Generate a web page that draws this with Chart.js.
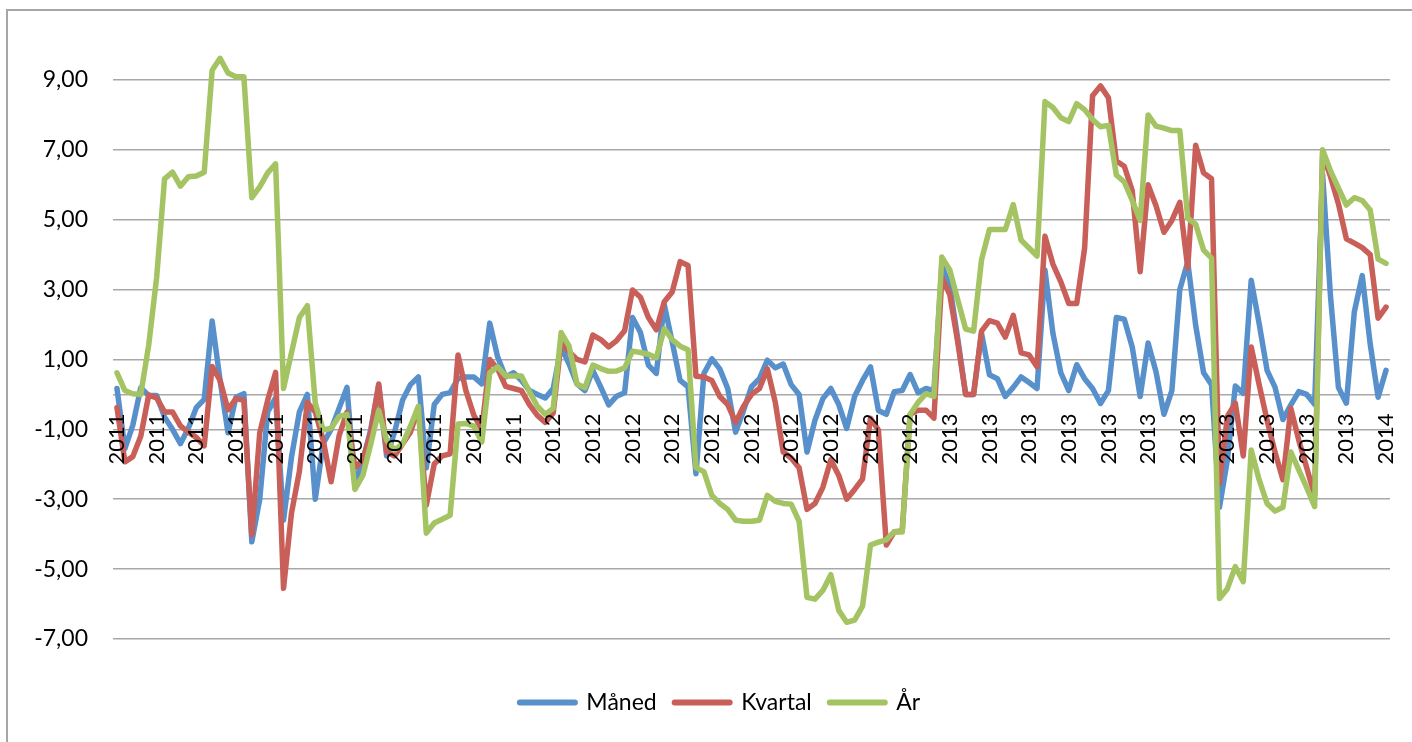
<!DOCTYPE html>
<html><head><meta charset="utf-8">
<script src="https://cdn.jsdelivr.net/npm/chart.js@4.4.1/dist/chart.umd.min.js"></script>
<style>
html,body{margin:0;padding:0;background:#fff;overflow:hidden;}
#wrap{position:relative;width:1412px;height:742px;}
#frame{position:absolute;left:6px;top:9px;width:1420px;height:760px;border-left:2px solid #a6a6a6;border-top:2px solid #a6a6a6;pointer-events:none;}
</style></head><body>
<div id="wrap"><canvas id="c" width="1412" height="742"></canvas><div id="frame"></div></div>
<script>
const yearNames = ['2011', '2012', '2013', '2014'];
const pointsPerYear = [52, 52, 52, 5];
const categories = yearNames.flatMap((y, k) => Array(pointsPerYear[k]).fill(y));

const yTicks = [-7, -5, -3, -1, 0, 1, 3, 5, 7, 9];

const maaned = [
  0.17,-1.55,-0.88,0.19,-0.03,-0.03,-0.65,-1.0,-1.41,-0.97,
  -0.38,-0.14,2.1,0.4,-1.1,-0.08,0.02,-4.22,-3.0,-0.5,
  -0.1,-3.6,-1.8,-0.5,0.0,-3.0,-1.4,-1.0,-0.4,0.2,
  -2.6,-1.9,-1.0,0.25,-1.76,-1.08,-0.17,0.28,0.5,-2.1,
  -0.29,0.0,0.05,0.45,0.5,0.5,0.3,2.04,1.07,0.5,
  0.62,0.4,0.11,0.0,-0.1,0.17,1.36,0.87,0.3,0.11,
  0.69,0.21,-0.3,-0.05,0.05,2.2,1.77,0.84,0.6,2.57,
  1.5,0.4,0.22,-2.27,0.6,1.02,0.73,0.17,-1.08,-0.46,
  0.22,0.45,0.98,0.76,0.87,0.28,0.0,-1.65,-0.74,-0.12,
  0.17,-0.29,-0.97,-0.06,0.4,0.79,-0.46,-0.57,0.08,0.11,
  0.57,0.05,0.17,0.11,3.68,3.1,1.6,0.0,0.0,1.75,
  0.56,0.45,-0.06,0.2,0.5,0.34,0.17,3.56,1.75,0.62,
  0.11,0.85,0.45,0.17,-0.26,0.11,2.2,2.15,1.36,-0.06,
  1.47,0.65,-0.57,0.11,3.0,3.79,1.98,0.62,0.28,-3.23,
  -1.87,0.24,0.03,3.27,2.03,0.69,0.21,-0.72,-0.3,0.08,
  0.0,-0.28,6.3,2.8,0.2,-0.25,2.36,3.4,1.45,-0.08,
  0.69
];

const kvartal = [
  -0.38,-1.93,-1.78,-1.2,-0.02,-0.1,-0.5,-0.5,-0.9,-1.08,
  -1.23,-1.47,0.8,0.4,-0.44,-0.12,-0.17,-4.02,-1.1,-0.17,
  0.63,-5.55,-3.4,-2.2,-0.23,-0.5,-1.31,-2.5,-1.19,-0.51,
  -2.1,-1.87,-1.08,0.3,-1.65,-1.76,-1.42,-1.08,-0.4,-3.17,
  -1.99,-1.76,-1.7,1.13,0.1,-0.6,-1.0,1.0,0.73,0.23,
  0.17,0.11,-0.29,-0.6,-0.8,-0.53,1.5,1.22,1.0,0.93,
  1.7,1.57,1.36,1.54,1.82,2.99,2.78,2.2,1.85,2.65,
  2.93,3.8,3.69,0.52,0.5,0.4,-0.06,-0.29,-0.8,-0.34,
  0.0,0.17,0.73,-0.23,-1.65,-1.82,-2.1,-3.29,-3.12,-2.66,
  -1.87,-2.32,-3.0,-2.72,-2.42,-0.68,-1.02,-4.31,-3.93,-3.91,
  -0.57,-0.45,-0.45,-0.68,3.34,2.86,1.5,0.0,0.0,1.81,
  2.11,2.04,1.64,2.26,1.19,1.13,0.79,4.53,3.73,3.22,
  2.6,2.6,4.19,8.55,8.83,8.49,6.68,6.53,5.83,3.51,
  6.0,5.4,4.64,4.98,5.5,3.62,7.13,6.34,6.17,-2.55,
  -0.63,-0.25,-1.76,1.36,0.28,-0.74,-1.65,-2.44,-0.4,-1.31,
  -2.1,-2.89,6.9,6.23,5.45,4.45,4.33,4.2,4.0,2.18,
  2.5
];

const aar = [
  0.62,0.11,0.02,0.0,1.41,3.34,6.17,6.36,5.96,6.23,
  6.25,6.36,9.28,9.62,9.2,9.09,9.09,5.63,5.94,6.34,
  6.6,0.17,1.19,2.2,2.54,-0.25,-1.02,-0.97,-0.63,-0.57,
  -2.72,-2.32,-1.42,-0.46,-1.31,-1.59,-1.42,-0.91,-0.34,-3.97,
  -3.68,-3.57,-3.46,-0.85,-0.83,-0.91,-1.36,0.62,0.79,0.53,
  0.53,0.53,0.08,-0.34,-0.57,-0.4,1.77,1.38,0.3,0.19,
  0.84,0.74,0.66,0.67,0.76,1.24,1.2,1.15,1.05,1.88,
  1.57,1.38,1.28,-2.1,-2.21,-2.89,-3.12,-3.29,-3.6,-3.63,
  -3.63,-3.6,-2.89,-3.06,-3.12,-3.14,-3.63,-5.81,-5.86,-5.61,
  -5.16,-6.18,-6.52,-6.46,-6.06,-4.31,-4.23,-4.16,-3.93,-3.94,
  -0.57,-0.23,0.02,-0.06,3.93,3.56,2.71,1.87,1.81,3.85,
  4.72,4.72,4.72,5.43,4.41,4.19,3.96,8.38,8.21,7.92,
  7.81,8.32,8.15,7.87,7.66,7.7,6.28,6.08,5.55,4.98,
  8.0,7.68,7.62,7.55,7.55,5.04,4.87,4.13,3.9,-5.84,
  -5.56,-4.93,-5.36,-1.59,-2.44,-3.12,-3.34,-3.23,-1.65,-2.16,
  -2.67,-3.21,7.0,6.4,5.9,5.42,5.63,5.55,5.28,3.87,
  3.75
];

const seriesNames = ['Måned', 'Kvartal', 'År'];
const seriesColors = ['#5890cb', '#c95f59', '#a4c362'];
const seriesData = [maaned, kvartal, aar];

const FONT = 'Lato, "Open Sans", sans-serif';

const datasets = seriesData.map((d, i) => ({
  label: seriesNames[i],
  data: d,
  borderColor: seriesColors[i],
  backgroundColor: seriesColors[i],
  borderWidth: 5.5,
  pointRadius: 0,
  pointHoverRadius: 0,
  tension: 0,
  borderJoinStyle: 'round',
  borderCapStyle: 'round',
  fill: false,
  yAxisID: 'y',
  order: 3 - i
}));

new Chart(document.getElementById('c'), {
  type: 'line',
  data: { labels: categories, datasets },
  options: {
    responsive: false,
    animation: false,
    layout: { padding: { left: 28, right: 0, top: 45, bottom: 18 } },
    plugins: {
      tooltip: { enabled: false },
      legend: {
        position: 'bottom',
        title: { display: true, text: '', font: { size: 10 }, padding: { top: 22, bottom: 0 } },
        labels: {
          usePointStyle: true,
          pointStyleWidth: 55,
          padding: 18,
          color: '#000',
          font: { family: FONT, size: 23 },
          generateLabels: (chart) => chart.data.datasets.map((ds, i) => ({
            text: ds.label,
            fillStyle: ds.borderColor,
            strokeStyle: ds.borderColor,
            lineWidth: 6,
            lineCap: 'round',
            pointStyle: 'line',
            hidden: false,
            datasetIndex: i,
            fontColor: '#000'
          }))
        }
      }
    },
    scales: {
      x: {
        type: 'category',
        position: { y: 0 },
        offset: true,
        grid: { display: false, drawTicks: true, tickLength: 19 },
        border: { display: false },
        ticks: {
          z: 1,
          autoSkip: false,
          minRotation: 90,
          maxRotation: 90,
          padding: 0,
          color: '#000',
          font: { family: FONT, size: 22, lineHeight: 1 },
          callback: (v, i) => (i % 5 === 0 ? categories[i] : '')
        }
      },
      y: {
        position: 'left',
        min: -7,
        max: 10,
        afterBuildTicks: (axis) => { axis.ticks = yTicks.map(v => ({ value: v })); },
        afterFit: (axis) => { axis.width = 85; },
        grid: { color: '#a8a8a8', lineWidth: 1.5, drawTicks: false },
        border: { display: false },
        ticks: {
          padding: 25,
          color: '#000',
          font: { family: FONT, size: 23 },
          callback: (v) => (v === 0 ? '' : v.toFixed(2).replace('.', ','))
        }
      },
      yRight: {
        type: 'linear',
        position: 'right',
        afterFit: (axis) => { axis.width = 22; },
        grid: { display: false, drawTicks: false },
        border: { display: false },
        ticks: { display: false }
      }
    }
  }
});
</script>
</body></html>
